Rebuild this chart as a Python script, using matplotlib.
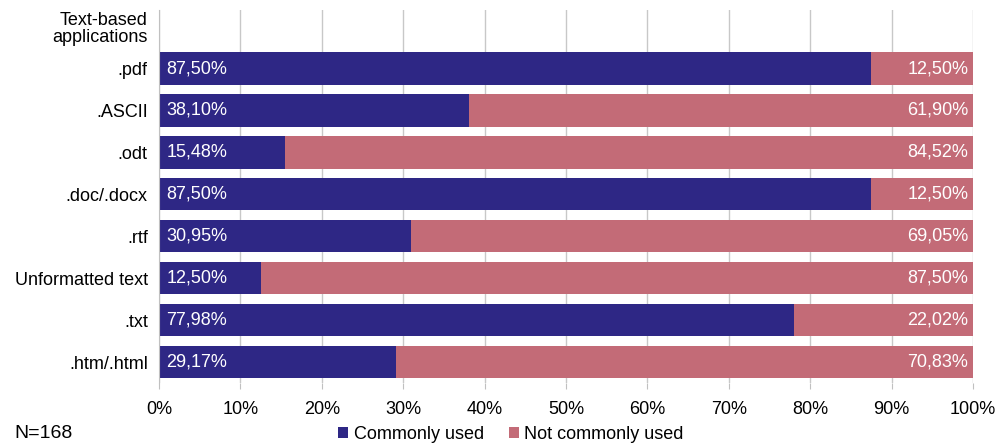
import matplotlib
matplotlib.use("Agg")
import matplotlib.pyplot as plt
from matplotlib.ticker import PercentFormatter

plt.rcParams['font.family'] = ['Liberation Sans', 'DejaVu Sans']

# Data (top to bottom)
categories = ["Text-based\napplications", ".pdf", ".ASCII", ".odt", ".doc/.docx", ".rtf",
              "Unformatted text", ".txt", ".htm/.html"]
commonly_used = [None, 87.50, 38.10, 15.48, 87.50, 30.95, 12.50, 77.98, 29.17]
not_commonly_used = [None, 12.50, 61.90, 84.52, 12.50, 69.05, 87.50, 22.02, 70.83]
series_names = ["Commonly used", "Not commonly used"]
sample_note = "N=168"

blue = "#2e2785"
pink = "#c36b77"

fig = plt.figure(figsize=(10.08, 4.43), dpi=100)
ax = fig.add_axes([0.1577, 0.1354, 0.8076, 0.8425])

n = len(categories)
ypos = list(range(n))
for i, (c, nc) in enumerate(zip(commonly_used, not_commonly_used)):
    if c is None:
        continue
    ax.barh(i, c, height=0.77, color=blue, label=series_names[0] if i == 1 else None)
    ax.barh(i, nc, left=c, height=0.77, color=pink, label=series_names[1] if i == 1 else None)
    ax.text(0.9, i, f"{c:.2f}%".replace(".", ","), color="white", fontsize=13,
            va="center", ha="left")
    ax.text(99.4, i, f"{nc:.2f}%".replace(".", ","), color="white", fontsize=13,
            va="center", ha="right")

ax.set_ylim(n - 0.5, -0.4)
ax.set_xlim(0, 100)
ax.set_yticks(ypos)
ax.set_yticklabels(categories, fontsize=13, linespacing=1.05)
ax.set_xticks(range(0, 101, 10))
ax.xaxis.set_major_formatter(PercentFormatter(decimals=0))
ax.tick_params(axis="x", labelsize=13, length=4, color="#c0c0c0", pad=9)
ax.tick_params(axis="y", length=0, pad=8)
ax.grid(axis="x", color="#c8c8c8", linewidth=1)
ax.set_axisbelow(True)
for s in ["top", "right", "bottom"]:
    ax.spines[s].set_visible(False)
ax.spines["left"].set_color("#c0c0c0")

fig.text(0.014, 0.003, sample_note, fontsize=14, ha="left", va="bottom")
fig.legend(loc="lower center", bbox_to_anchor=(0.507, -0.037), ncol=2, frameon=False,
           fontsize=13, handlelength=0.55, handleheight=0.55, handletextpad=0.3,
           columnspacing=1.4)

fig.savefig("out.png", dpi=100)
